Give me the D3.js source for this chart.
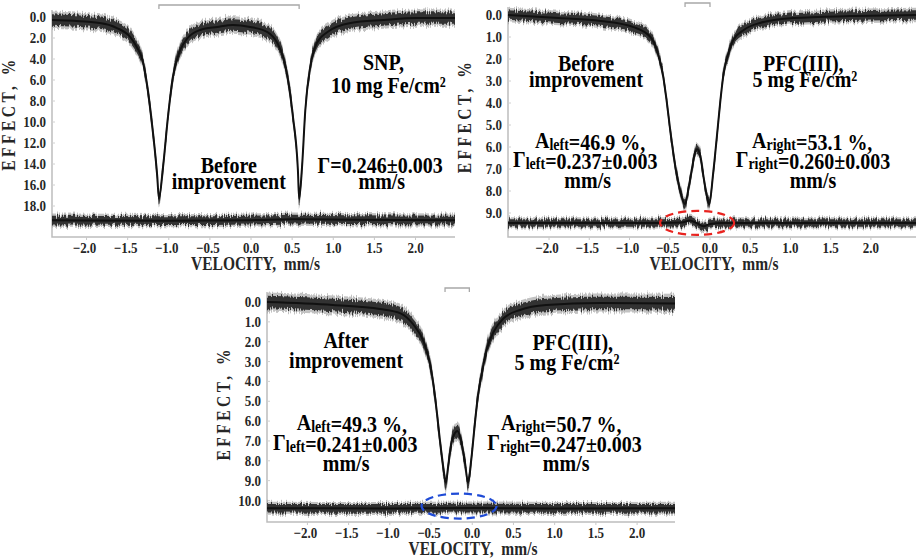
<!DOCTYPE html>
<html lang="en">
<head>
<meta charset="UTF-8">
<title>Mossbauer spectra</title>
<script src="https://cdn.jsdelivr.net/npm/d3@7"></script>
<style>
    html, body { margin: 0; padding: 0; background: #fff; }
    svg { display: block; }
    text { font-family: "Liberation Serif", "Times New Roman", serif; font-weight: bold; }
    .tick-label { font-size: 13px; fill: #262626; }
    .ax-title { font-size: 15.5px; fill: #262626; }
    .note { font-size: 20px; fill: #000; }
</style>
</head>
<body>
<script>
// spectra: velocity (mm/s) and effect (%) of the band centre
const vel1 = [-2.42, -1.84, -1.63, -1.47, -1.39, -1.32, -1.26, -1.20, -1.14, -1.12, -1.07, -1.01, -0.95, -0.86, -0.77, -0.62, -0.41, -0.22, -0.01, 0.20, 0.32, 0.39, 0.45, 0.51, 0.57, 0.585, 0.62, 0.66, 0.72, 0.80, 0.93, 1.21, 1.61, 2.02, 2.48]
const eff1 = [0.29, 0.57, 1.05, 1.9, 2.86, 4.1, 6.67, 10.48, 15.2, 17.3, 14.3, 9.52, 5.71, 3.14, 2.0, 1.24, 0.95, 0.76, 0.95, 1.43, 2.48, 3.81, 6.0, 9.52, 14.6, 17.3, 14.3, 8.86, 4.76, 2.48, 1.43, 0.57, 0.29, 0.1, 0.1]

const vel2 = [-2.51, -1.88, -1.36, -0.95, -0.74, -0.66, -0.58, -0.54, -0.49, -0.43, -0.37, -0.31, -0.27, -0.22, -0.19, -0.16, -0.12, -0.08, -0.04, -0.01, 0.04, 0.09, 0.13, 0.17, 0.23, 0.29, 0.42, 0.62, 1.04, 1.74, 2.56]
const eff2 = [0.0, 0.14, 0.27, 0.55, 1.0, 1.59, 2.82, 3.86, 5.36, 6.9, 8.0, 8.6, 7.95, 6.9, 6.3, 6.1, 6.4, 7.36, 8.2, 8.6, 7.18, 5.36, 3.86, 2.64, 1.73, 1.14, 0.68, 0.36, 0.14, 0.05, 0.0]

const vel3 = [-2.49, -1.69, -1.12, -0.87, -0.71, -0.59, -0.51, -0.47, -0.43, -0.39, -0.35, -0.32, -0.29, -0.25, -0.21, -0.18, -0.14, -0.09, -0.05, -0.01, 0.03, 0.07, 0.12, 0.18, 0.26, 0.38, 0.58, 0.90, 1.55, 2.46]
const eff3 = [0.0, 0.15, 0.35, 0.57, 1.16, 2.0, 3.17, 4.18, 5.53, 7.04, 8.38, 9.1, 8.21, 7.04, 6.6, 6.5, 6.9, 8.04, 9.1, 7.87, 6.2, 4.69, 3.51, 2.33, 1.5, 0.82, 0.4, 0.15, 0.05, 0.07]

// residuals (difference curves) under each spectrum
const resVel1 = [-2.42, -1.0, 0.0, 0.5, 1.2, 2.48]
const resEff1 = [19.35, 19.4, 19.35, 19.25, 19.3, 19.35]
const resVel2 = [-2.51, -0.6, -0.35, -0.25, -0.17, -0.08, 0.0, 0.15, 2.56]
const resEff2 = [9.45, 9.45, 9.43, 9.34, 9.45, 9.6, 9.5, 9.45, 9.45]
const resVel3 = [-2.49, -1.0, 0.0, 1.0, 2.46]
const resEff3 = [10.39, 10.4, 10.38, 10.4, 10.39]

// line positions marked by the brackets on top
const dips1 = [-1.12, 0.585]
const dips2 = [-0.31, 0.0]
const dips3 = [-0.33, -0.035]

const xTicks = [-2.0, -1.5, -1.0, -0.5, 0.0, 0.5, 1.0, 1.5, 2.0]
const yTicks1 = [0, 2, 4, 6, 8, 10, 12, 14, 16, 18]
const yTicks2 = [0, 1, 2, 3, 4, 5, 6, 7, 8, 9]
const yTicks3 = [0, 1, 2, 3, 4, 5, 6, 7, 8, 9, 10]

const panels = [
    { vel: vel1, eff: eff1, rv: resVel1, re: resEff1, noise: 0.55, rnoise: 0.42, dips: dips1, yTicks: yTicks1,
      box: { l: 52, r: 455, t: 10, b: 237 }, xDom: [-2.42, 2.48], yDom: [0, 18], yRng: [17, 206], bracketY: 5 },
    { vel: vel2, eff: eff2, rv: resVel2, re: resEff2, noise: 0.22, rnoise: 0.17, dips: dips2, yTicks: yTicks2,
      box: { l: 508, r: 916, t: 7, b: 237 }, xDom: [-2.51, 2.56], yDom: [0, 9], yRng: [15, 213], bracketY: 3 },
    { vel: vel3, eff: eff3, rv: resVel3, re: resEff3, noise: 0.32, rnoise: 0.22, dips: dips3, yTicks: yTicks3,
      box: { l: 267, r: 675, t: 292, b: 522 }, xDom: [-2.49, 2.46], yDom: [0, 10], yRng: [302, 500.5], bracketY: 288 }
]

// the original figure is a bit taller than wide, text included
const stretch = 1.15

const svg = d3.select('body').append('svg')
    .attr('width', 918)
    .attr('height', 559)

// texture filter: jitters the bands up and down so they look like counting noise
const defs = svg.append('defs')
const flt = defs.append('filter').attr('id', 'jitter')
    .attr('filterUnits', 'userSpaceOnUse')
    .attr('x', 0).attr('y', 0).attr('width', 918).attr('height', 559)
flt.append('feTurbulence').attr('type', 'fractalNoise')
    .attr('baseFrequency', '0.8 0.02').attr('numOctaves', 2).attr('seed', 4).attr('result', 'turb')
flt.append('feColorMatrix').attr('in', 'turb').attr('type', 'matrix')
    .attr('values', '0 0 0 0 0.5  0 1 0 0 0  0 0 0 0 0.5  0 0 0 0 1').attr('result', 'disp')
flt.append('feDisplacementMap').attr('in', 'SourceGraphic').attr('in2', 'disp')
    .attr('scale', 9).attr('xChannelSelector', 'R').attr('yChannelSelector', 'G')

const fmt = d3.format('.1f')

function drawBand(g, x, y, vs, es, h) {
    const pts = vs.map((v, i) => ({ v, e: es[i] }))
    const area = k => d3.area()
        .x(d => x(d.v))
        .y0(d => y(d.e - h * k))
        .y1(d => y(d.e + h * k))
        .curve(d3.curveMonotoneX)
    const b = g.append('g').attr('filter', 'url(#jitter)')
    b.append('path').datum(pts).attr('d', area(1.5)).attr('fill', '#9a9a9a').attr('opacity', 0.6)
    b.append('path').datum(pts).attr('d', area(1)).attr('fill', '#333')
    g.append('path').datum(pts)
        .attr('d', d3.line().x(d => x(d.v)).y(d => y(d.e)).curve(d3.curveMonotoneX))
        .attr('fill', 'none').attr('stroke', '#111').attr('stroke-width', 2)
}

function stretched(sel, x, y) {
    return sel.attr('transform', `translate(${x},${y}) scale(1,${stretch})`)
}

panels.forEach(p => {
    const g = svg.append('g')
    const x = d3.scaleLinear().domain(p.xDom).range([p.box.l, p.box.r])
    const y = d3.scaleLinear().domain(p.yDom).range(p.yRng)
    p.x = x; p.y = y

    // frame: left and bottom lines only
    g.append('path')
        .attr('d', `M${p.box.l},${p.box.t}V${p.box.b}H${p.box.r}`)
        .attr('fill', 'none').attr('stroke', '#bdbdbd').attr('stroke-width', 1.5)

    // small ticks
    g.selectAll('.xt').data(xTicks).join('line')
        .attr('x1', d => x(d)).attr('x2', d => x(d))
        .attr('y1', p.box.b).attr('y2', p.box.b + 3)
        .attr('stroke', '#c8c8c8')
    g.selectAll('.yt').data(p.yTicks).join('line')
        .attr('x1', p.box.l).attr('x2', p.box.l + 3)
        .attr('y1', d => y(d)).attr('y2', d => y(d))
        .attr('stroke', '#d0d0d0')

    g.selectAll('.xl').data(xTicks).join('text')
        .attr('class', 'tick-label')
        .attr('text-anchor', 'middle')
        .each(function (d) { stretched(d3.select(this), x(d) - (d < 0 ? 2 : 0), p.box.b + 16) })
        .text(fmt)
    g.selectAll('.yl').data(p.yTicks).join('text')
        .attr('class', 'tick-label')
        .attr('text-anchor', 'end')
        .each(function (d) { stretched(d3.select(this), p.box.l - 6, y(d) + 5) })
        .text(fmt)

    stretched(g.append('text').attr('class', 'ax-title'), (p.box.l + p.box.r) / 2 + 2, p.box.b + 33)
        .attr('text-anchor', 'middle')
        .attr('xml:space', 'preserve')
        .text('VELOCITY,  mm/s')

    const ymid = (p.yRng[0] + p.yRng[1]) / 2 + 2
    g.append('text').attr('class', 'ax-title')
        .attr('transform', `translate(${p.box.l - 37},${ymid}) rotate(-90) scale(1,${stretch})`)
        .attr('text-anchor', 'middle')
        .attr('letter-spacing', 3.5)
        .text('EFFECT, %')

    // bracket above the two lines
    const bx = p.dips.map(x)
    g.append('path')
        .attr('d', `M${bx[0]},${p.bracketY + 4}V${p.bracketY}H${bx[1]}V${p.bracketY + 4}`)
        .attr('fill', 'none').attr('stroke', '#a8a8a8').attr('stroke-width', 1.3)

    drawBand(g, x, y, p.rv, p.re, p.rnoise)
    drawBand(g, x, y, p.vel, p.eff, p.noise)
})

// annotation text, placed in data units of its panel
function note(p, v, e, parts) {
    const t = stretched(svg.append('text').attr('class', 'note'), p.x(v), p.y(e))
        .attr('text-anchor', 'middle')
    parts.forEach(part => {
        if (typeof part === 'string') t.append('tspan').text(part)
        else if (part.sub) {
            t.append('tspan').attr('font-size', 14).attr('dy', 1.5).text(part.sub)
            t.append('tspan').attr('dy', -1.5).text('')
        }
    })
}

const P1 = panels[0], P2 = panels[1], P3 = panels[2]
note(P1, 1.61, 5.05, ['SNP,'])
note(P1, 1.67, 7.24, ['10 mg Fe/cm²'])
note(P1, -0.27, 14.86, ['Before'])
note(P1, -0.27, 16.38, ['improvement'])
note(P1, 1.57, 14.86, ['Γ=0.246±0.003'])
note(P1, 1.59, 16.38, ['mm/s'])

note(P2, -1.54, 2.55, ['Before'])
note(P2, -1.54, 3.25, ['improvement'])
note(P2, 1.16, 2.55, ['PFC(III),'])
note(P2, 1.18, 3.25, ['5 mg Fe/cm²'])
note(P2, -1.49, 6.05, ['A', { sub: 'left' }, '=46.9 %,'])
note(P2, -1.55, 6.9, ['Γ', { sub: 'left' }, '=0.237±0.003'])
note(P2, -1.52, 7.85, ['mm/s'])
note(P2, 1.27, 6.05, ['A', { sub: 'right' }, '=53.1 %,'])
note(P2, 1.28, 6.9, ['Γ', { sub: 'right' }, '=0.260±0.003'])
note(P2, 1.28, 7.85, ['mm/s'])

note(P3, -1.53, 2.33, ['After'])
note(P3, -1.53, 3.35, ['improvement'])
note(P3, 1.22, 2.43, ['PFC(III),'])
note(P3, 1.15, 3.45, ['5 mg Fe/cm²'])
note(P3, -1.46, 6.45, ['A', { sub: 'left' }, '=49.3 %,'])
note(P3, -1.54, 7.45, ['Γ', { sub: 'left' }, '=0.241±0.003'])
note(P3, -1.53, 8.5, ['mm/s'])
note(P3, 1.08, 6.45, ['A', { sub: 'right' }, '=50.7 %,'])
note(P3, 1.12, 7.45, ['Γ', { sub: 'right' }, '=0.247±0.003'])
note(P3, 1.14, 8.5, ['mm/s'])

// dashed ellipses around the residual near the lines
svg.append('ellipse')
    .attr('cx', P2.x(-0.16)).attr('cy', P2.y(9.45))
    .attr('rx', 37).attr('ry', 12)
    .attr('fill', 'none').attr('stroke', '#e8231f').attr('stroke-width', 2.2)
    .attr('stroke-dasharray', '8,5')
svg.append('ellipse')
    .attr('cx', P3.x(-0.16)).attr('cy', P3.y(10.28))
    .attr('rx', 37.5).attr('ry', 12.5)
    .attr('fill', 'none').attr('stroke', '#1f4bd6').attr('stroke-width', 2.2)
    .attr('stroke-dasharray', '8,5')
</script>
</body>
</html>
